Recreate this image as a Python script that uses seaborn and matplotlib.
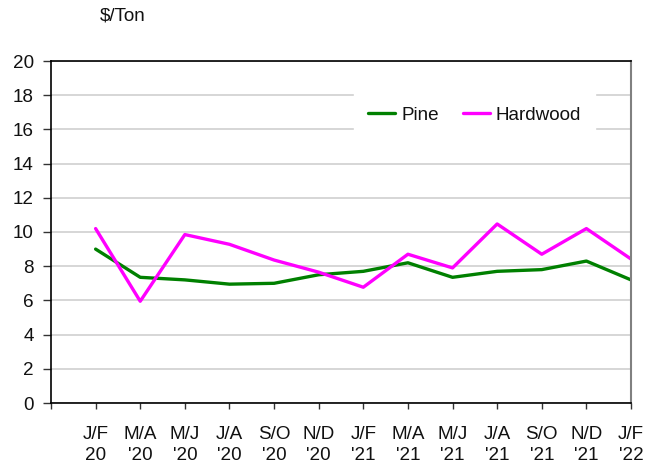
import matplotlib
matplotlib.use("Agg")
import matplotlib.pyplot as plt
import seaborn as sns
import pandas as pd

periods = ["J/F\n20", "M/A\n'20", "M/J\n'20", "J/A\n'20", "S/O\n'20", "N/D\n'20",
           "J/F\n'21", "M/A\n'21", "M/J\n'21", "J/A\n'21", "S/O\n'21", "N/D\n'21", "J/F\n'22"]
pine = [9.0, 7.35, 7.2, 6.95, 7.0, 7.5, 7.7, 8.2, 7.35, 7.7, 7.8, 8.3, 7.2]
hardwood = [10.2, 5.95, 9.85, 9.28, 8.36, 7.65, 6.77, 8.7, 7.9, 10.47, 8.7, 10.2, 8.42]
y_ticks = [0, 2, 4, 6, 8, 10, 12, 14, 16, 18, 20]

sns.set_theme(style="white")
plt.rcParams['font.family'] = ['Liberation Sans', 'DejaVu Sans']
FS = 13.6

df = pd.DataFrame({
    "x": list(range(len(periods))) * 2,
    "value": pine + hardwood,
    "series": ["Pine"] * len(pine) + ["Hardwood"] * len(hardwood),
})

fig = plt.figure(figsize=(6.58, 4.67), dpi=100)
ax = fig.add_axes([51/658, 1 - 403/467, (631-51)/658, (403-61)/467])

sns.lineplot(data=df, x="x", y="value", hue="series",
             palette={"Pine": "#008000", "Hardwood": "#FF00FF"},
             linewidth=2.4, ax=ax, legend=True)

ax.set_xlim(-1, len(periods) - 1)
ax.set_ylim(0, 20)
ax.set_yticks(y_ticks)
ax.set_yticklabels([str(v) for v in y_ticks], fontsize=FS)
ax.set_xticks(range(-1, len(periods)))
ax.set_xticklabels([""] + periods, fontsize=FS, linespacing=1.28)
ax.tick_params(axis="both", which="both", width=1, color="#333333",
               direction="out", left=True, bottom=True, labelcolor="#111111")
ax.tick_params(axis="x", length=4.5, pad=12)
ax.tick_params(axis="y", length=5.5, pad=7)
ax.grid(axis="y", color="#d0d0d0", linewidth=1.2)
ax.set_axisbelow(True)
ax.set_xlabel("")
ax.set_ylabel("")

for s in ["left", "bottom", "top"]:
    ax.spines[s].set_color("black")
    ax.spines[s].set_linewidth(1.2)
ax.spines["right"].set_color("#808080")
ax.spines["right"].set_linewidth(1.5)

handles, labels = ax.get_legend_handles_labels()
leg = ax.legend(handles, labels, ncol=2, loc="center",
                bbox_to_anchor=((474.5-51)/580, (403-115)/342),
                frameon=True, fontsize=FS, handlelength=1.43, handletextpad=0.32,
                columnspacing=1.27, borderpad=0.75, fancybox=False)
leg.get_frame().set_edgecolor("white")
leg.get_frame().set_facecolor("white")
leg.get_frame().set_alpha(1)
for t in leg.get_texts():
    t.set_color("#111111")

fig.text(100/658, 1 - 16/467, "$/Ton", fontsize=FS, va="center", ha="left", color="#111111")

fig.savefig("out.png", dpi=100)
